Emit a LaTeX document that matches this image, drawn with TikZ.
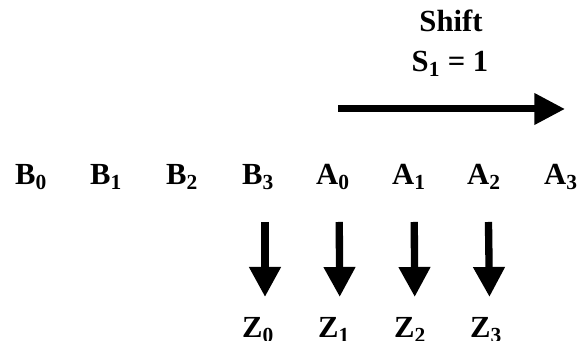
\documentclass[tikz,border=0pt]{standalone}
\usepackage{fontspec}
\setmainfont{Liberation Serif}
\usetikzlibrary{arrows.meta}

\begin{document}
\begin{tikzpicture}[x=0.75pt, y=-0.75pt,
    lbl/.style={anchor=base, inner sep=0pt, font=\fontsize{23}{26}\selectfont\bfseries},
    fatarrow/.style={line width=5.25pt, -{Triangle[length=23pt,width=22.5pt]}},
    downarrow/.style={line width=5.5pt, -{Triangle[length=22.5pt,width=22.5pt]},
                      shorten <=27.75pt, shorten >=30.75pt}]

    % picture frame, in pixels of the reference
    \useasboundingbox (0,0) rectangle (579,341);

    % shift label
    \node[lbl] (shift) at (451,32) {Shift};
    \node[lbl] (sval) at (450,72) {S\textsubscript{1} = 1};

    % shift arrow
    \coordinate (sl) at (338,109);
    \coordinate (sr) at (565,109);
    \draw[fatarrow] (sl) -- (sr);

    % register row
    \node[lbl] (b0) at (31,185) {B\textsubscript{0}};
    \node[lbl] (b1) at (106,185) {B\textsubscript{1}};
    \node[lbl] (b2) at (182,185) {B\textsubscript{2}};
    \node[lbl] (b3) at (258,185) {B\textsubscript{3}};
    \node[lbl] (a0) at (333,185) {A\textsubscript{0}};
    \node[lbl] (a1) at (409,185) {A\textsubscript{1}};
    \node[lbl] (a2) at (484,185) {A\textsubscript{2}};
    \node[lbl] (a3) at (561,185) {A\textsubscript{3}};

    % outputs
    \node[lbl] (z0) at (258,338) {Z\textsubscript{0}};
    \node[lbl] (z1) at (334,338) {Z\textsubscript{1}};
    \node[lbl] (z2) at (410,338) {Z\textsubscript{2}};
    \node[lbl] (z3) at (486,338) {Z\textsubscript{3}};

    % selected outputs
    \draw[downarrow] ([xshift=5.25pt]b3.base) -- ([xshift=5.25pt]z0.base);
    \draw[downarrow] ([xshift=4.5pt]a0.base) -- ([xshift=4.5pt]z1.base);
    \draw[downarrow] ([xshift=3.75pt]a1.base) -- ([xshift=3.75pt]z2.base);
    \draw[downarrow] ([xshift=3pt]a2.base) -- ([xshift=3pt]z3.base);

\end{tikzpicture}
\end{document}
